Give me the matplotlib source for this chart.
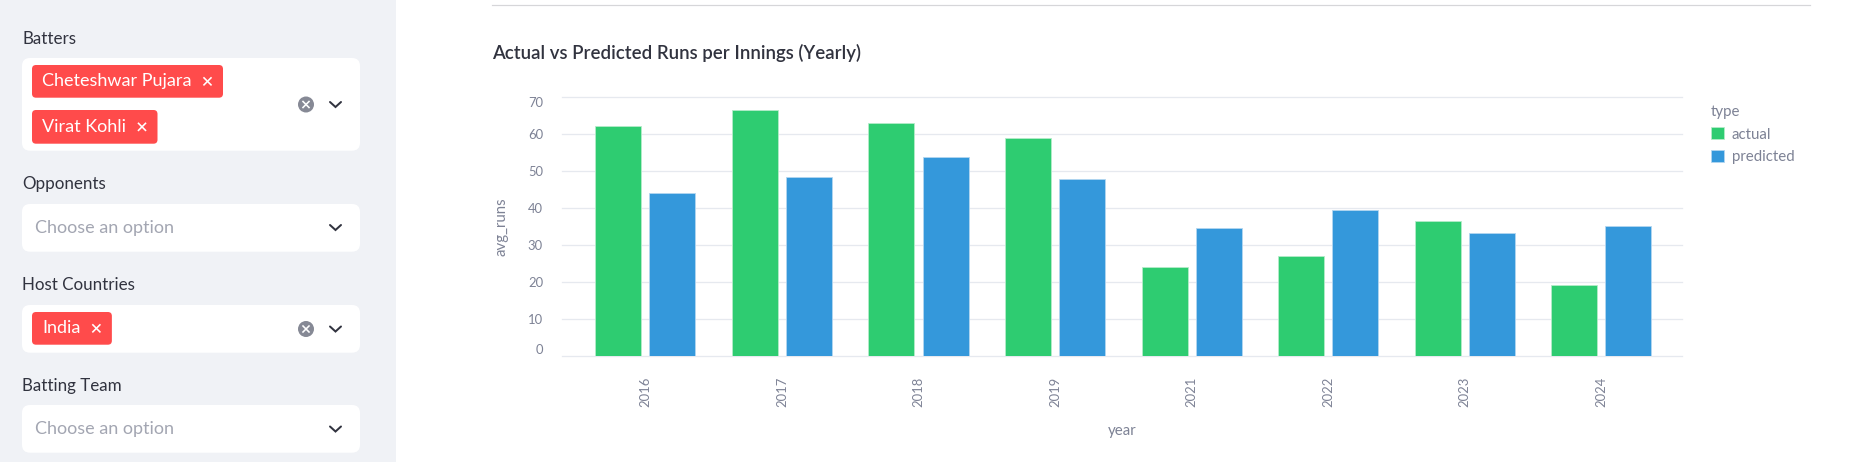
import numpy as np
import matplotlib
matplotlib.use('Agg')
import matplotlib.pyplot as plt
from matplotlib.patches import FancyBboxPatch, Rectangle, Circle

# data
years = ['2016', '2017', '2018', '2019', '2021', '2022', '2023', '2024']
actual = [62.2, 66.6, 63.1, 59.0, 24.2, 27.0, 36.5, 19.2]
predicted = [44.1, 48.5, 54.0, 48.0, 34.6, 39.6, 33.2, 35.1]
y_ticks = [0, 10, 20, 30, 40, 50, 60, 70]

batters = ['Cheteshwar Pujara', 'Virat Kohli']
host_countries = ['India']
title = 'Actual vs Predicted Runs per Innings (Yearly)'

W, H, DPI = 1868, 462, 100
PT = 72 / DPI  # px -> pt

TEXT = '#31333f'
AXIS_TEXT = '#7d8295'
GRID = '#e6e9ef'
GREEN = '#2ecc71'
BLUE = '#3498db'
RED = '#ff4b4b'
SIDEBAR = '#f0f2f6'
PLACEHOLDER = '#a3a6b2'
ICON = '#868995'

plt.rcParams['font.family'] = ['Lato', 'DejaVu Sans']

fig = plt.figure(figsize=(W / DPI, H / DPI), dpi=DPI)
fig.patch.set_facecolor('white')

# background axes in pixel units (y goes down like the screenshot)
bg = fig.add_axes([0, 0, 1, 1])
bg.set_xlim(0, W)
bg.set_ylim(H, 0)
bg.axis('off')
renderer = fig.canvas.get_renderer()

bg.add_patch(Rectangle((0, 0), 396, H, color=SIDEBAR, lw=0))


def box(y0, y1):
    bg.add_patch(FancyBboxPatch((22, y0), 338, y1 - y0,
                                boxstyle='round,pad=0,rounding_size=8',
                                fc='white', ec='none'))


def chevron(yc):
    bg.plot([330, 335.5, 341], [yc - 2.5, yc + 2.5, yc - 2.5], color=TEXT,
            lw=2 * PT, solid_capstyle='round', solid_joinstyle='miter')


def clear_icon(yc):
    bg.add_patch(Circle((306, yc), 8, fc=ICON, ec='none'))
    bg.plot([303, 309], [yc - 3, yc + 3], color='white', lw=1.6 * PT)
    bg.plot([303, 309], [yc + 3, yc - 3], color='white', lw=1.6 * PT)


def tag(text, y0, y1):
    yc = (y0 + y1) / 2
    t = bg.text(42, yc, text, fontsize=18 * PT, color='white', va='center',
                zorder=4)
    tw = t.get_window_extent(renderer).width
    bg.add_patch(FancyBboxPatch((32, y0), tw + 41.5, y1 - y0,
                                boxstyle='round,pad=0,rounding_size=4',
                                fc=RED, ec='none', zorder=3))
    xc = 42 + tw + 16
    bg.plot([xc - 3.5, xc + 3.5], [yc - 3.5, yc + 3.5], color='white', lw=1.6 * PT, zorder=4)
    bg.plot([xc - 3.5, xc + 3.5], [yc + 3.5, yc - 3.5], color='white', lw=1.6 * PT, zorder=4)


def label(text, yc):
    bg.text(22, yc, text, fontsize=17 * PT, color=TEXT, va='center')


def placeholder(yc):
    bg.text(35, yc, 'Choose an option', fontsize=18 * PT, color=PLACEHOLDER, va='center')


# Batters
label('Batters', 39)
box(58, 150.7)
tag(batters[0], 65, 97.7)
tag(batters[1], 110, 143.7)
clear_icon(104.5)
chevron(104.5)

# Opponents
label('Opponents', 184)
box(204, 251.7)
placeholder(227.5)
chevron(227.5)

# Host Countries
label('Host Countries', 285.3)
box(305, 352.7)
tag(host_countries[0], 312, 344.7)
clear_icon(329)
chevron(329)

# Batting Team
label('Batting Team', 386.3)
box(405, 452.7)
placeholder(429)
chevron(429)

# divider line and title in main area
bg.plot([492, 1810], [4.5, 4.5], color='#d6d6d9', lw=1.2 * PT)
bg.text(492, 53, title, fontsize=18.6 * PT, fontweight='semibold', color=TEXT, va='center')

# chart
x0, x1, ytop, ybot = 562, 1682, 97.3, 356.3
ax = fig.add_axes([x0 / W, (H - ybot) / H, (x1 - x0) / W, (ybot - ytop) / H])
ax.patch.set_alpha(0)

x = np.arange(len(years))
bw = 0.337
off = 0.198
ax.bar(x - off, actual, bw, color=GREEN, edgecolor='#b5ecc9', lw=0.6, label='actual', zorder=3)
ax.bar(x + off, predicted, bw, color=BLUE, edgecolor='#b3d6f0', lw=0.6, label='predicted', zorder=3)

ax.set_xlim(-0.61, 7.59)
ax.set_ylim(0, 70)
ax.set_xticks(x, years, rotation=90)
ax.set_yticks(y_ticks, [str(v) for v in y_ticks])
ax.grid(axis='y', color=GRID, lw=1.3 * PT, zorder=0)
for gl in ax.get_ygridlines():
    gl.set_clip_on(False)
for s in ax.spines.values():
    s.set_visible(False)

ax.tick_params(axis='y', length=0, pad=19 * PT, labelsize=13 * PT, labelcolor=AXIS_TEXT)
ax.tick_params(axis='x', length=0, pad=20 * PT, labelsize=13 * PT, labelcolor=AXIS_TEXT)
for lbl in ax.get_yticklabels():
    if lbl.get_text() == '0':
        lbl.set_va('bottom')
    elif lbl.get_text() == '70':
        lbl.set_va('top')

ax.set_xlabel('year', fontsize=15 * PT, color=AXIS_TEXT)
ax.xaxis.set_label_coords(0.5, -(431 - ybot) / (ybot - ytop))
ax.xaxis.label.set_va('center')
ax.set_ylabel('avg_runs', fontsize=15 * PT, color=AXIS_TEXT)
ax.yaxis.set_label_coords((501.7 - x0) / (x1 - x0), 0.5)
ax.yaxis.label.set_va('center')

leg = ax.legend(title='type', loc='upper left',
                bbox_to_anchor=(1711 / W, (H - 105) / H), bbox_transform=fig.transFigure,
                frameon=False, fontsize=15 * PT, title_fontsize=15 * PT, alignment='left',
                borderpad=0, borderaxespad=0, handlelength=0.87, handleheight=0.87,
                handletextpad=0.5, labelspacing=0.55)
leg.get_title().set_color(AXIS_TEXT)
for t in leg.get_texts():
    t.set_color(AXIS_TEXT)

fig.savefig('out.png', dpi=DPI)
